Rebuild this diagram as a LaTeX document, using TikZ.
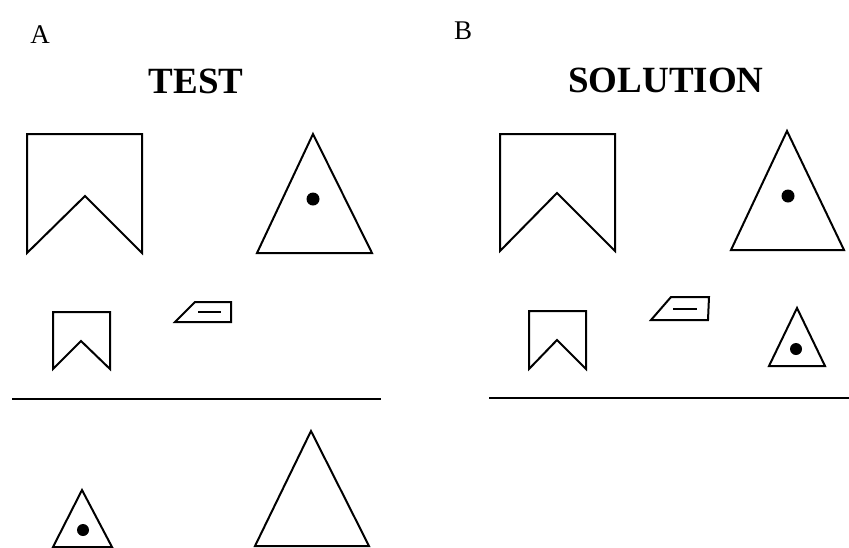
\documentclass[tikz,border=0pt]{standalone}
\usepackage{fontspec}
\setmainfont{Liberation Serif}
\usepackage{tikz}
\usetikzlibrary{positioning}
\tikzstyle{outline} = [draw=black, line width=2pt, line join=miter]
\tikzstyle{dot} = [fill=black]
\tikzstyle{panel} = [font=\fontsize{27}{27}\selectfont, inner sep=0pt]
\tikzstyle{heading} = [font=\fontsize{37}{37}\selectfont\bfseries, inner sep=0pt]
\tikzstyle{rule} = [draw=black, line width=2pt]

\begin{document}
\begin{tikzpicture}[x=1pt, y=-1pt]
    \useasboundingbox (0,0) rectangle (849,547);

    % Panel labels and headings
    \node[panel] (labA) at (40,35) {A};
    \node[panel] (labB) at (463,31) {B};
    \node[heading] (test) at (196,81) {TEST};
    \node[heading] (solution) at (666,80) {SOLUTION};

    % A: test pair (big)
    \draw[outline] (27,134) -- (142,134) -- (142,253) -- (85,196) -- (27,253) -- cycle;
    \draw[outline] (313,134) -- (372,253) -- (257,253) -- cycle;
    \fill[dot] (313,199) circle (6.5);

    % A: small chevron and parallelogram
    \draw[outline] (53,312) -- (110,312) -- (110,369) -- (81,341) -- (53,369) -- cycle;
    \draw[outline] (175,322) -- (195,302) -- (231,302) -- (231,322) -- cycle;
    \draw[outline] (198,312) -- (221,312);

    % A: divider and choices below
    \coordinate (ruleAw) at (12,399);
    \coordinate (ruleAe) at (381,399);
    \draw[rule] (ruleAw) -- (ruleAe);
    \draw[outline] (82,490) -- (112,547) -- (53,547) -- cycle;
    \fill[dot] (83,530) circle (6);
    \draw[outline] (311,431) -- (369,546) -- (255,546) -- cycle;

    % B: solution pair (big)
    \draw[outline] (500,134) -- (615,134) -- (615,251) -- (557,193) -- (500,251) -- cycle;
    \draw[outline] (787,131) -- (844,250) -- (731,250) -- cycle;
    \fill[dot] (788,196) circle (6.5);

    % B: small chevron, parallelogram and small triangle
    \draw[outline] (529,311) -- (586,311) -- (586,369) -- (557,340) -- (529,369) -- cycle;
    \draw[outline] (651,320) -- (671,297) -- (709,297) -- (708,320) -- cycle;
    \draw[outline] (673,309) -- (697,309);
    \draw[outline] (797,308) -- (825,366) -- (769,366) -- cycle;
    \fill[dot] (796,349) circle (6);

    % B: divider
    \coordinate (ruleBw) at (489,398);
    \coordinate (ruleBe) at (849,398);
    \draw[rule] (ruleBw) -- (ruleBe);
\end{tikzpicture}
\end{document}
